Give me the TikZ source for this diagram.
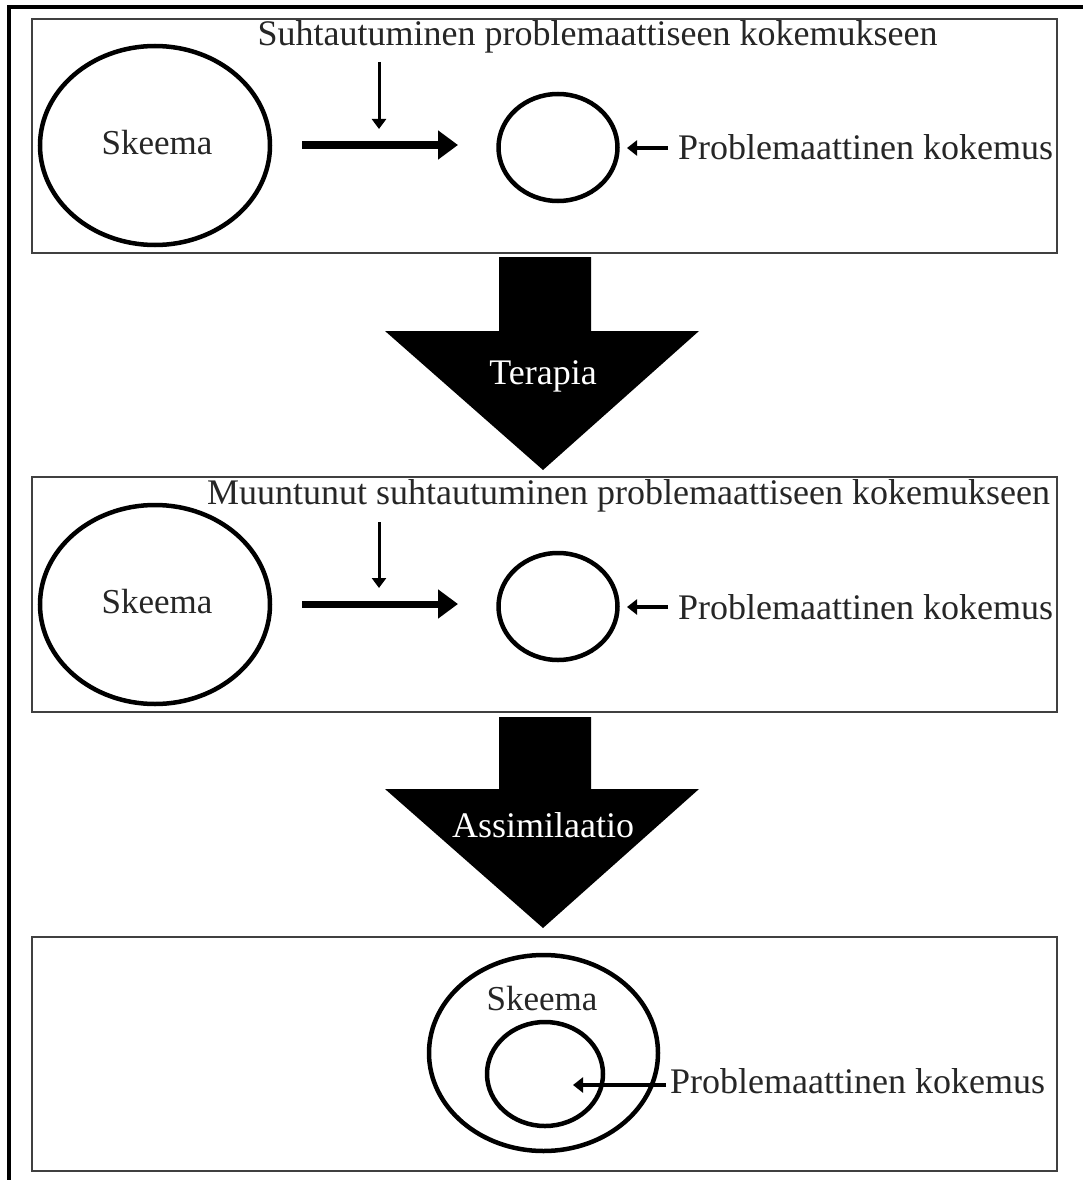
\documentclass[tikz,border=0pt]{standalone}
\usepackage{fontspec}
\setmainfont{Liberation Serif}
\usetikzlibrary{arrows.meta,shapes.geometric}
\begin{document}
\begin{tikzpicture}[x=1pt,y=-1pt,
  outerframe/.style={draw=black, line width=3.5pt},
  boxframe/.style={draw=black!75, line width=1.8pt},
  bubble/.style={draw, ellipse, line width=4.5pt, inner sep=0pt},
  lbl/.style={font=\fontsize{36}{42}\selectfont, inner sep=0pt, text=black!85},
  sklbl/.style={font=\fontsize{35}{42}\selectfont, inner sep=0pt, text=black!85},
  bigarrow/.style={-{Triangle[length=20pt,width=28pt]}, line width=7pt},
  thinarrow/.style={-{Triangle[length=10pt,width=14pt]}, line width=3pt},
  labarrow/.style={-{Triangle[length=10pt,width=15pt]}, line width=4pt},
  blockarrow/.style={fill=black}
]
\useasboundingbox (0,0) rectangle (1083,1180);
\fill[white] (0,0) rectangle (1083,1180);

% outer frame
\draw[outerframe] (1083,7) -- (9,7) -- (9,1180);

% boxes
\draw[boxframe] (32,19) rectangle (1057,253);
\draw[boxframe] (32,477) rectangle (1057,712);
\draw[boxframe] (32,937) rectangle (1057,1171);

% ---- box 1
\node[bubble, minimum width=230pt, minimum height=199pt] (s1) at (155,145.5) {};
\node[sklbl, anchor=base] (s1t) at (157,154) {Skeema};
\node[bubble, minimum width=119pt, minimum height=107pt] (e1) at (558,147.5) {};
\node[lbl, anchor=base] (t1) at (597.5,46) {Suhtautuminen problemaattiseen kokemukseen};
\node[lbl, anchor=base west] (p1) at (678,160) {Problemaattinen kokemus};
\coordinate (a1s) at (302,145);
\coordinate (a1e) at (458,145);
\draw[bigarrow] (a1s) -- (a1e);
\coordinate (d1s) at (379,62);
\coordinate (d1e) at (379,129);
\draw[thinarrow] (d1s) -- (d1e);
\coordinate (l1s) at (668,148);
\coordinate (l1e) at (627,148);
\draw[labarrow] (l1s) -- (l1e);

% ---- block arrow 1
\fill[blockarrow] (499,257) -- (591,257) -- (591,331) -- (699,331) -- (543,470) -- (385,331) -- (499,331) -- cycle;
\node[lbl, text=white, anchor=base] (ter) at (543,384) {Terapia};

% ---- box 2
\node[bubble, minimum width=230pt, minimum height=199pt] (s2) at (155,604.5) {};
\node[sklbl, anchor=base] (s2t) at (157,613) {Skeema};
\node[bubble, minimum width=119pt, minimum height=107pt] (e2) at (558,606.5) {};
\node[lbl, anchor=base] (t2) at (628.5,504) {Muuntunut suhtautuminen problemaattiseen kokemukseen};
\node[lbl, anchor=base west] (p2) at (678,619) {Problemaattinen kokemus};
\coordinate (a2s) at (302,604);
\coordinate (a2e) at (458,604);
\draw[bigarrow] (a2s) -- (a2e);
\coordinate (d2s) at (379,522);
\coordinate (d2e) at (379,588);
\draw[thinarrow] (d2s) -- (d2e);
\coordinate (l2s) at (668,607);
\coordinate (l2e) at (627,607);
\draw[labarrow] (l2s) -- (l2e);

% ---- block arrow 2
\fill[blockarrow] (499,717) -- (591,717) -- (591,789) -- (699,789) -- (543,928) -- (385,789) -- (499,789) -- cycle;
\node[lbl, text=white, anchor=base] (asm) at (543,837) {Assimilaatio};

% ---- box 3
\node[bubble, minimum width=229pt, minimum height=196pt] (s3) at (543.5,1053) {};
\node[bubble, minimum width=116pt, minimum height=104pt] (e3) at (545,1074) {};
\node[sklbl, anchor=base] (s3t) at (542,1010) {Skeema};
\node[lbl, anchor=base west] (p3) at (670,1093) {Problemaattinen kokemus};
\coordinate (l3s) at (666,1085);
\coordinate (l3e) at (573,1085);
\draw[labarrow] (l3s) -- (l3e);
\end{tikzpicture}
\end{document}
